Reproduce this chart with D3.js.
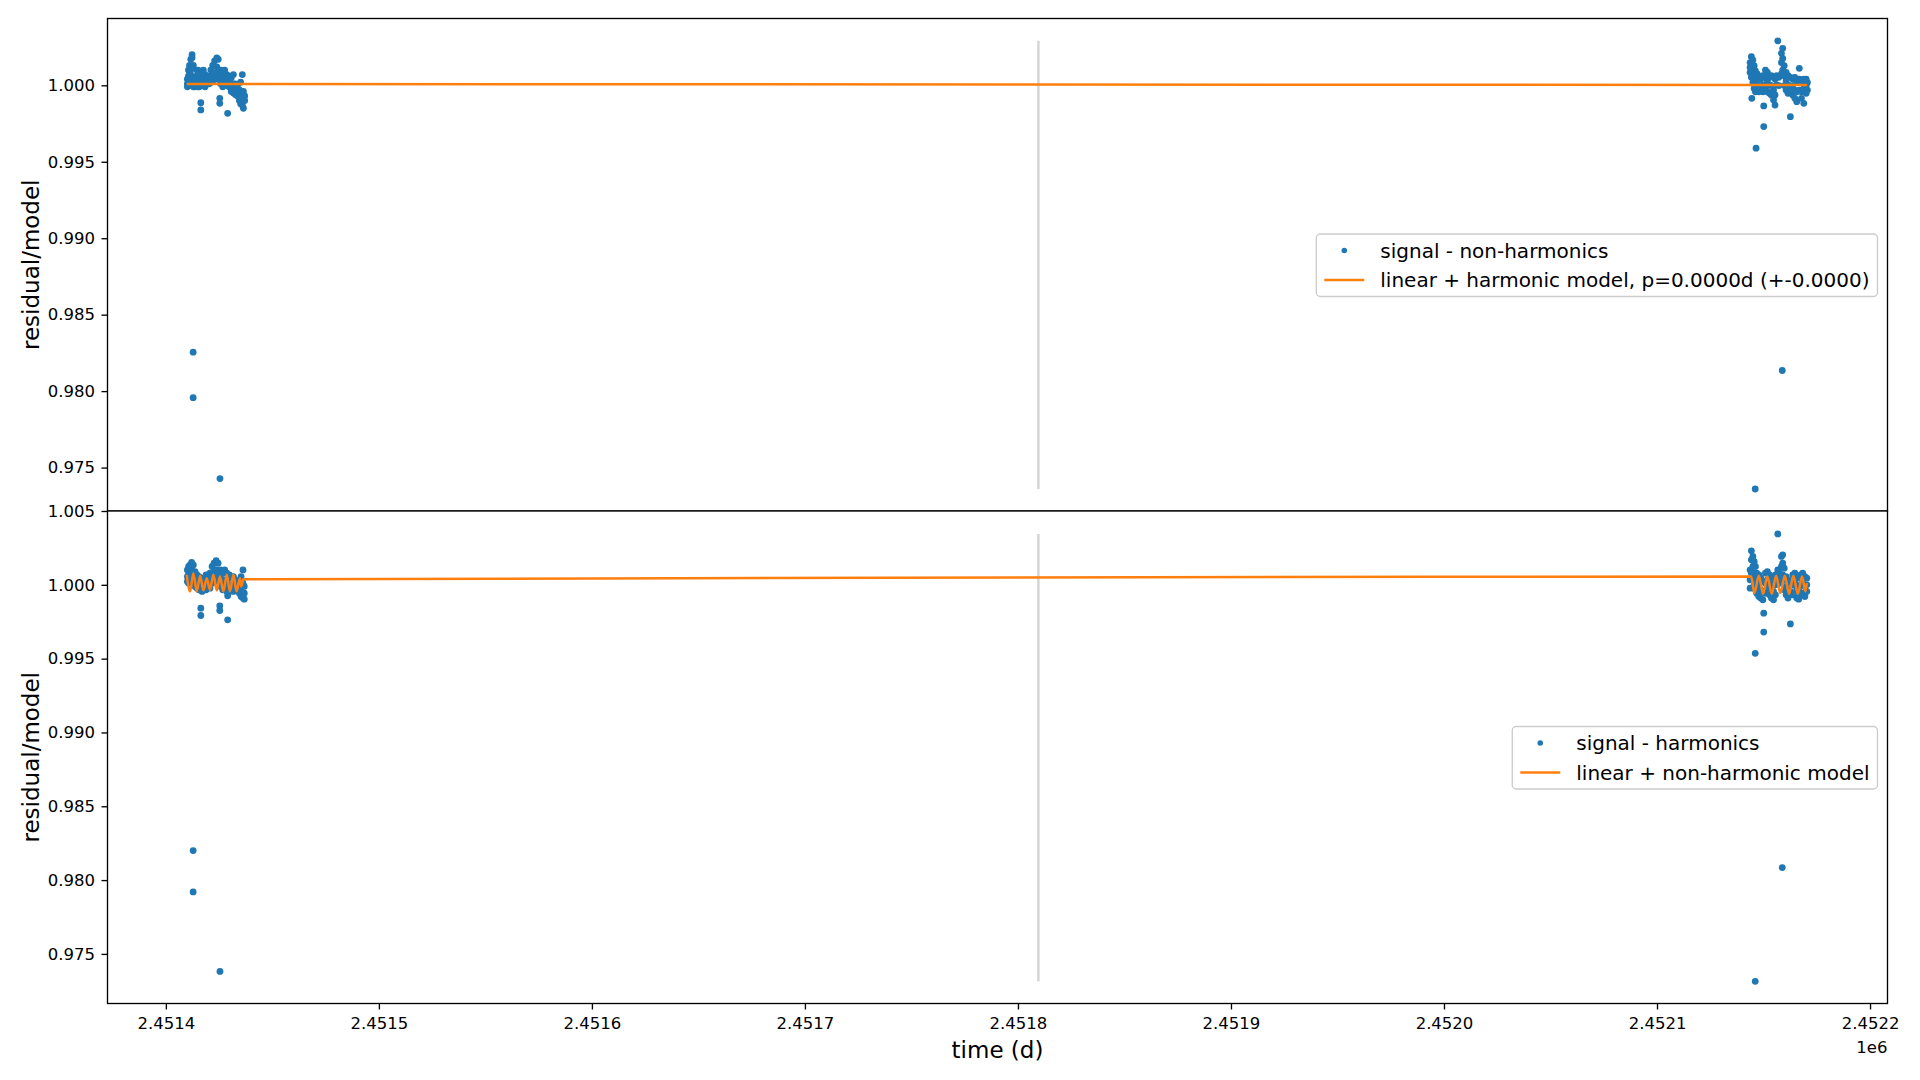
<!DOCTYPE html>
<html><head><meta charset="utf-8">
<script src="https://cdn.jsdelivr.net/npm/d3@7"></script>
<style>
html,body{margin:0;padding:0;background:#fff;}
svg{display:block;font-family:"DejaVu Sans",sans-serif;}
</style></head><body>
<svg id="chart" width="1920" height="1080"></svg>
<script>
// ---------------- data ----------------
const xLimits = [2451372.6, 2452208.2];
const topYLimits = [0.97216, 1.00437];
const bottomYLimits = [0.97164, 1.00500];
const xTickValues = [2451400, 2451500, 2451600, 2451700, 2451800, 2451900, 2452000, 2452100, 2452200];
const xTickLabels = ["2.4514", "2.4515", "2.4516", "2.4517", "2.4518", "2.4519", "2.4520", "2.4521", "2.4522"];
const xOffsetLabel = "1e6";
const topYTicks = [0.975, 0.980, 0.985, 0.990, 0.995, 1.000];
const bottomYTicks = [0.975, 0.980, 0.985, 0.990, 0.995, 1.000, 1.005];
const splitTime = 2451809.6;
const xLabel = "time (d)";
const yLabel = "residual/model";
const topLegendLabels = ["signal - non-harmonics", "linear + harmonic model, p=0.0000d (+-0.0000)"];
const bottomLegendLabels = ["signal - harmonics", "linear + non-harmonic model"];

// top panel: signal - non-harmonics  [time, value]
const signalNonHarmonics = [
[2451410.1,1.0001],[2451410.1,0.9999],[2451410.1,1.0004],
[2451410.6,1.0006],[2451410.6,1.0010],[2451410.6,1.0002],
[2451411.1,1.0013],[2451411.1,1.0002],[2451411.1,1.0008],
[2451411.7,1.0017],[2451411.7,1.0007],[2451411.7,1.0000],
[2451412.3,1.0020],[2451412.3,1.0018],[2451412.3,1.0011],
[2451412.8,0.98255],[2451412.8,0.97957],
[2451412.9,1.0013],[2451412.9,1.0004],[2451412.9,0.9999],
[2451413.6,1.0000],[2451413.6,0.9999],[2451413.6,1.0005],
[2451414.5,1.0010],[2451414.5,1.0006],[2451414.5,1.0001],
[2451415.1,1.0010],[2451415.1,1.0001],[2451415.1,0.9999],
[2451415.7,1.0007],[2451415.7,0.9999],[2451415.7,1.0003],
[2451416.4,0.99886],[2451416.4,0.99839],
[2451416.7,1.0004],[2451416.7,1.0001],[2451416.7,1.0000],
[2451417.6,1.0010],[2451417.6,1.0000],[2451417.6,1.0005],
[2451418.4,1.0007],[2451418.4,0.9999],[2451418.4,1.0003],
[2451419.2,1.0001],[2451419.2,1.0004],
[2451420.3,1.0006],[2451420.3,1.0004],[2451420.3,1.0001],
[2451421.1,1.0010],[2451421.1,1.0005],[2451421.1,1.0002],
[2451422.0,1.0013],[2451422.0,1.0006],[2451422.0,1.0003],
[2451422.9,1.0016],[2451422.9,1.0008],[2451422.9,1.0004],
[2451423.9,1.0018],[2451423.9,1.0012],[2451423.9,1.0006],
[2451424.6,1.0017],[2451424.6,1.0004],[2451424.6,1.0010],
[2451425.3,0.99915],[2451425.3,0.99882],[2451425.4,0.97428],
[2451425.7,1.0010],[2451425.7,1.0001],[2451425.7,1.0006],
[2451426.7,1.0007],[2451426.7,1.0002],[2451426.7,0.9999],
[2451427.6,1.0010],[2451427.6,1.0005],[2451427.6,1.0001],
[2451428.6,1.0007],[2451428.6,1.0000],[2451428.6,1.0003],
[2451429.0,0.99817],
[2451429.7,1.0006],[2451429.7,0.9999],[2451429.7,1.0002],
[2451430.7,1.0005],[2451430.7,0.9996],[2451430.7,1.0000],
[2451431.7,1.0007],[2451431.7,0.9995],[2451431.7,1.0001],
[2451432.6,1.0001],[2451432.6,0.9994],[2451432.6,0.9997],
[2451433.6,1.0000],[2451433.6,0.9993],[2451433.6,0.9996],
[2451434.5,0.9997],[2451434.5,0.9990],[2451434.5,0.9994],
[2451435.1,1.0002],[2451435.1,0.9988],[2451435.1,0.9995],
[2451435.9,1.0007],[2451435.9,0.9987],[2451435.9,0.9992],
[2451436.4,0.9996],[2451436.4,0.9985],[2451436.4,0.9990],
[2451437.0,0.9993],[2451437.0,0.9990],
[2452143.7,1.00149],[2452143.7,1.00117],[2452143.7,1.00084],
[2452144.3,1.00187],[2452144.3,1.00139],[2452144.3,1.00052],
[2452144.5,0.99915],
[2452145.0,1.00165],[2452145.0,1.00100],[2452145.0,1.00019],
[2452145.6,1.00128],[2452145.6,1.00063],[2452145.6,0.99980],
[2452146.1,0.97360],
[2452146.2,1.00095],[2452146.2,1.00030],[2452146.2,0.99958],
[2452146.5,0.99589],
[2452147.0,1.00074],[2452147.0,1.00002],[2452147.0,0.99969],
[2452147.8,1.00052],[2452147.8,0.99998],[2452147.8,0.99958],
[2452148.7,1.00041],[2452148.7,0.99980],
[2452149.7,1.00063],[2452149.7,1.00002],[2452149.7,0.99958],
[2452150.1,0.99865],[2452150.1,0.99730],
[2452150.9,1.00100],[2452150.9,1.00052],[2452150.9,0.99980],
[2452151.8,1.00084],[2452151.8,1.00030],[2452151.8,0.99958],
[2452152.8,1.00052],[2452152.8,1.00002],[2452152.8,0.99948],
[2452153.7,1.00063],[2452153.7,0.99998],[2452153.7,0.99937],
[2452154.7,1.00052],[2452154.7,0.99969],[2452154.7,0.99904],
[2452155.4,1.00041],[2452155.4,0.99937],[2452155.4,0.99871],
[2452156.2,1.00063],[2452156.2,1.00002],
[2452156.7,1.00291],
[2452157.2,1.00052],[2452157.2,0.99998],
[2452158.4,1.00209],[2452158.4,1.00149],[2452158.4,1.00074],
[2452158.8,0.98135],
[2452159.0,1.00242],[2452159.0,1.00176],[2452159.0,1.00100],
[2452159.7,1.00128],[2452159.7,1.00063],[2452159.7,0.99998],
[2452160.6,1.00084],[2452160.6,1.00030],[2452160.6,0.99969],
[2452161.5,1.00063],[2452161.5,1.00002],[2452161.5,0.99948],
[2452162.6,1.00052],[2452162.6,0.99980],[2452162.6,0.99795],
[2452163.7,1.00041],[2452163.7,0.99998],[2452163.7,0.99937],
[2452164.7,1.00052],[2452164.7,0.99969],[2452164.7,0.99915],
[2452165.6,1.00030],[2452165.6,0.99958],[2452165.6,0.99893],
[2452166.8,1.00111],[2452166.8,1.00041],[2452166.8,0.99969],
[2452167.8,1.00019],[2452167.8,0.99958],[2452167.8,0.99915],
[2452168.9,1.00041],[2452168.9,0.99980],[2452168.9,0.99882],
[2452170.0,1.00041],[2452170.0,0.99998],[2452170.0,0.99948],
[2452170.6,1.00019],[2452170.6,0.99969]
];

// top panel model
const harmonicModel = [
[2451409.8,1.000085],[2451437.0,1.000083],[2452143.5,1.000022],[2452170.5,1.000020]
];

// bottom panel: signal - harmonics  [time, value]
const signalHarmonics = [
[2451410.1,1.00101],[2451410.1,1.00056],[2451410.1,1.00023],
[2451410.7,1.00124],[2451410.7,1.00068],[2451410.7,1.00011],
[2451411.4,1.00135],[2451411.4,1.00079],[2451411.4,1.00034],
[2451412.1,1.00151],[2451412.1,1.00101],[2451412.1,1.00045],
[2451412.8,0.98200],[2451412.8,0.97920],
[2451412.9,1.00135],[2451412.9,1.00056],[2451412.9,1.00000],
[2451413.7,1.00090],[2451413.7,1.00034],[2451413.7,0.99989],
[2451414.6,1.00068],[2451414.6,1.00023],[2451414.6,0.99977],
[2451415.6,1.00056],[2451415.6,1.00011],[2451415.6,0.99966],
[2451416.4,0.99842],[2451416.4,0.99792],
[2451417.0,1.00045],[2451417.0,1.00000],[2451417.0,0.99955],
[2451417.9,1.00034],[2451417.9,0.99989],
[2451418.9,1.00068],[2451418.9,1.00011],[2451418.9,0.99966],
[2451419.8,1.00045],[2451419.8,0.99989],
[2451420.7,1.00079],[2451420.7,1.00023],[2451420.7,0.99977],
[2451421.7,1.00124],[2451421.7,1.00068],[2451421.7,1.00011],
[2451422.6,1.00146],[2451422.6,1.00090],[2451422.6,1.00034],
[2451423.6,1.00164],[2451423.6,1.00101],[2451423.6,1.00045],
[2451424.5,1.00146],[2451424.5,1.00079],[2451424.5,1.00023],
[2451425.3,0.99858],[2451425.3,0.99826],[2451425.4,0.97381],
[2451425.7,1.00101],[2451425.7,1.00045],[2451425.7,0.99989],
[2451426.7,1.00079],[2451426.7,1.00023],[2451426.7,0.99966],
[2451427.6,1.00101],[2451427.6,1.00034],[2451427.6,0.99977],
[2451428.6,1.00079],[2451428.6,1.00011],[2451428.6,0.99955],
[2451429.0,0.99926],[2451429.0,0.99763],
[2451429.8,1.00068],[2451429.8,1.00000],[2451429.8,0.99955],
[2451430.7,1.00045],[2451430.7,0.99989],
[2451431.7,1.00056],[2451431.7,1.00000],[2451431.7,0.99955],
[2451432.6,1.00034],[2451432.6,0.99977],
[2451433.6,1.00023],[2451433.6,0.99966],
[2451434.5,1.00000],[2451434.5,0.99943],
[2451435.3,1.00056],[2451435.3,0.99977],[2451435.3,0.99921],
[2451436.2,1.00101],[2451436.2,1.00011],[2451436.2,0.99910],
[2451436.8,0.99989],[2451436.8,0.99943],[2451436.8,0.99903],
[2452143.7,1.00101],[2452143.7,1.00034],[2452143.7,0.99977],
[2452144.3,1.00230],[2452144.3,1.00169],[2452144.3,1.00079],
[2452145.0,1.00192],[2452145.0,1.00124],[2452145.0,1.00045],
[2452145.6,1.00158],[2452145.6,1.00079],[2452145.6,1.00000],
[2452146.1,0.99536],[2452146.1,0.97314],
[2452146.2,1.00124],[2452146.2,1.00045],[2452146.2,0.99966],
[2452146.8,1.00079],[2452146.8,1.00011],[2452146.8,0.99943],
[2452147.8,1.00068],[2452147.8,0.99989],[2452147.8,0.99921],
[2452148.7,1.00045],[2452148.7,0.99966],[2452148.7,0.99910],
[2452149.7,1.00023],[2452149.7,0.99955],[2452149.7,0.99898],
[2452150.1,0.99808],[2452150.1,0.99680],
[2452150.9,1.00079],[2452150.9,1.00011],[2452150.9,0.99943],
[2452151.8,1.00090],[2452151.8,1.00034],[2452151.8,0.99977],
[2452152.8,1.00068],[2452152.8,1.00000],[2452152.8,0.99932],
[2452153.7,1.00045],[2452153.7,0.99966],[2452153.7,0.99910],
[2452154.7,1.00034],[2452154.7,0.99955],[2452154.7,0.99898],
[2452155.6,1.00068],[2452155.6,1.00000],[2452155.6,0.99932],
[2452156.7,1.00345],[2452156.7,1.00101],[2452156.7,1.00045],
[2452157.5,1.00079],[2452157.5,1.00011],
[2452158.4,1.00192],[2452158.4,1.00124],[2452158.4,1.00045],
[2452158.8,0.98085],
[2452159.0,1.00203],[2452159.0,1.00146],[2452159.0,1.00068],
[2452159.7,1.00113],[2452159.7,1.00034],[2452159.7,0.99966],
[2452160.6,1.00056],[2452160.6,0.99989],[2452160.6,0.99932],
[2452161.5,1.00034],[2452161.5,0.99966],[2452161.5,0.99910],
[2452162.6,1.00023],[2452162.6,0.99955],[2452162.6,0.99735],
[2452163.7,1.00068],[2452163.7,1.00000],[2452163.7,0.99932],
[2452164.7,1.00079],[2452164.7,1.00011],[2452164.7,0.99943],
[2452165.6,1.00056],[2452165.6,0.99977],[2452165.6,0.99910],
[2452166.5,1.00045],[2452166.5,0.99966],[2452166.5,0.99903],
[2452167.5,1.00068],[2452167.5,1.00000],[2452167.5,0.99932],
[2452168.4,1.00079],[2452168.4,1.00011],[2452168.4,0.99943],
[2452169.4,1.00056],[2452169.4,0.99989],[2452169.4,0.99921],
[2452170.3,1.00045],[2452170.3,1.00000],[2452170.3,0.99955]
];

// bottom panel model
const nonHarmonicModel = [
[2451409.8,1.00068],[2451411.4,0.99955],[2451412.9,1.00079],[2451414.5,0.99955],
[2451416.1,1.00061],[2451417.6,0.99962],[2451419.2,1.00045],[2451420.7,0.99966],
[2451422.3,1.00068],[2451423.9,0.99962],[2451425.4,1.00056],[2451427.0,0.99955],
[2451428.6,1.00068],[2451430.1,0.99955],[2451431.7,1.00068],[2451433.2,0.99955],
[2451434.8,1.00045],[2451435.4,0.99989],[2451436.4,1.00038],
[2452144.2,1.00056],[2452145.7,0.99944],[2452147.8,1.00061],[2452149.8,0.99939],
[2452151.8,1.00056],[2452153.9,0.99939],[2452155.9,1.00061],[2452157.9,0.99944],
[2452160.0,1.00061],[2452162.0,0.99939],[2452164.0,1.00061],[2452166.1,0.99939],
[2452168.1,1.00056],[2452169.7,0.99955],[2452170.3,1.00011]
];

// ---------------- drawing ----------------
const BLUE = "#1f77b4", ORANGE = "#ff7f0e";
const L = 107.5, R = 1887.5, T = 18.5, M = 511, B = 1003.5;
const TICK_FS = 16.5, LEG_FS = 20, LAB_FS = 23;

const svg = d3.select("#chart");
svg.append("rect").attr("width",1920).attr("height",1080).attr("fill","#fff");

const x = d3.scaleLinear().domain(xLimits).range([L, R]);
const panels = [
  {top: T, bottom: M, ylim: topYLimits, yticks: topYTicks, data: signalNonHarmonics,
   model: harmonicModel, curve: d3.curveLinear, legend: topLegendLabels, id: "top"},
  {top: M, bottom: B, ylim: bottomYLimits, yticks: bottomYTicks, data: signalHarmonics,
   model: nonHarmonicModel, curve: d3.curveMonotoneX, legend: bottomLegendLabels, id: "bot"}
];

panels.forEach((p, i) => {
  const y = d3.scaleLinear().domain(p.ylim).range([p.bottom, p.top]);
  const g = svg.append("g");
  g.append("rect").attr("x", L).attr("y", p.top).attr("width", R - L).attr("height", p.bottom - p.top).attr("fill", "#fff");
  svg.append("clipPath").attr("id", "clip-" + p.id).append("rect")
    .attr("x", L).attr("y", p.top).attr("width", R - L).attr("height", p.bottom - p.top);
  const plot = g.append("g").attr("clip-path", `url(#clip-${p.id})`);

  // vertical split line spanning data range
  const ext = d3.extent(p.data, d => d[1]);
  plot.append("line")
    .attr("x1", x(splitTime)).attr("x2", x(splitTime))
    .attr("y1", y(ext[0])).attr("y2", y(ext[1]))
    .attr("stroke", "#d5d5d5").attr("stroke-width", 2.5);

  plot.selectAll("circle.pt").data(p.data).join("circle")
    .attr("class", "pt")
    .attr("cx", d => x(d[0])).attr("cy", d => y(d[1])).attr("r", 3.4)
    .attr("fill", BLUE);

  const line = d3.line().x(d => x(d[0])).y(d => y(d[1])).curve(p.curve);
  plot.append("path").datum(p.model).attr("d", line)
    .attr("fill", "none").attr("stroke", ORANGE).attr("stroke-width", 2.5);

  // y axis
  const ya = g.append("g").attr("transform", `translate(${L},0)`)
    .call(d3.axisLeft(y).tickValues(p.yticks).tickFormat(d3.format(".3f")).tickSize(6).tickPadding(6.5));
  ya.select(".domain").remove();
  ya.selectAll("line").attr("stroke", "#000").attr("stroke-width", 1.33);
  ya.selectAll("text").attr("font-size", TICK_FS).attr("font-family", "DejaVu Sans").attr("fill", "#000");

  // frame
  g.append("rect").attr("x", L).attr("y", p.top).attr("width", R - L).attr("height", p.bottom - p.top)
    .attr("fill", "none").attr("stroke", "#000").attr("stroke-width", 1.33);

  // y label
  g.append("text")
    .attr("transform", `translate(30.5,${(p.top + p.bottom) / 2}) rotate(-90)`)
    .attr("text-anchor", "middle").attr("dy", "0.35em")
    .attr("font-size", LAB_FS).attr("fill", "#000").text(yLabel);

  // legend
  const lg = g.append("g");
  const pad = 0.4 * LEG_FS, hl = 2 * LEG_FS, tp = 0.8 * LEG_FS;
  const cy = (p.top + p.bottom) / 2 + 0.5;
  const rows = [cy - 14.75, cy + 14.75];
  const box = lg.append("rect");
  const texts = lg.selectAll("text").data(p.legend).join("text")
    .attr("y", (d, k) => rows[k]).attr("dy", "0.35em")
    .attr("font-size", LEG_FS).attr("fill", "#000").text(d => d);
  let tw = 0;
  texts.each(function(){ tw = Math.max(tw, this.getComputedTextLength()); });
  const right = R - 10;
  const left = right - (2 * pad + hl + tp + tw);
  texts.attr("x", left + pad + hl + tp);
  box.attr("x", left).attr("y", cy - 31.25).attr("width", right - left).attr("height", 62.5)
    .attr("rx", 4).attr("fill", "#fff").attr("fill-opacity", 0.8)
    .attr("stroke", "#cccccc").attr("stroke-width", 1.33);
  lg.append("circle").attr("cx", left + pad + hl / 2).attr("cy", rows[0]).attr("r", 2.8).attr("fill", BLUE);
  lg.append("line").attr("x1", left + pad).attr("x2", left + pad + hl)
    .attr("y1", rows[1]).attr("y2", rows[1]).attr("stroke", ORANGE).attr("stroke-width", 2.5);

  if (i === 1) {
    const xa = g.append("g").attr("transform", `translate(0,${B})`)
      .call(d3.axisBottom(x).tickValues(xTickValues).tickFormat((d, k) => xTickLabels[k]).tickSize(6).tickPadding(8));
    xa.select(".domain").remove();
    xa.selectAll("line").attr("stroke", "#000").attr("stroke-width", 1.33);
    xa.selectAll("text").attr("font-size", TICK_FS).attr("font-family", "DejaVu Sans").attr("fill", "#000");
    g.append("text").attr("x", R).attr("y", 1053).attr("text-anchor", "end")
      .attr("font-size", TICK_FS).attr("fill", "#000").text(xOffsetLabel);
    g.append("text").attr("x", (L + R) / 2).attr("y", 1058).attr("text-anchor", "middle")
      .attr("font-size", LAB_FS).attr("fill", "#000").text(xLabel);
  }
});
</script>
</body></html>
